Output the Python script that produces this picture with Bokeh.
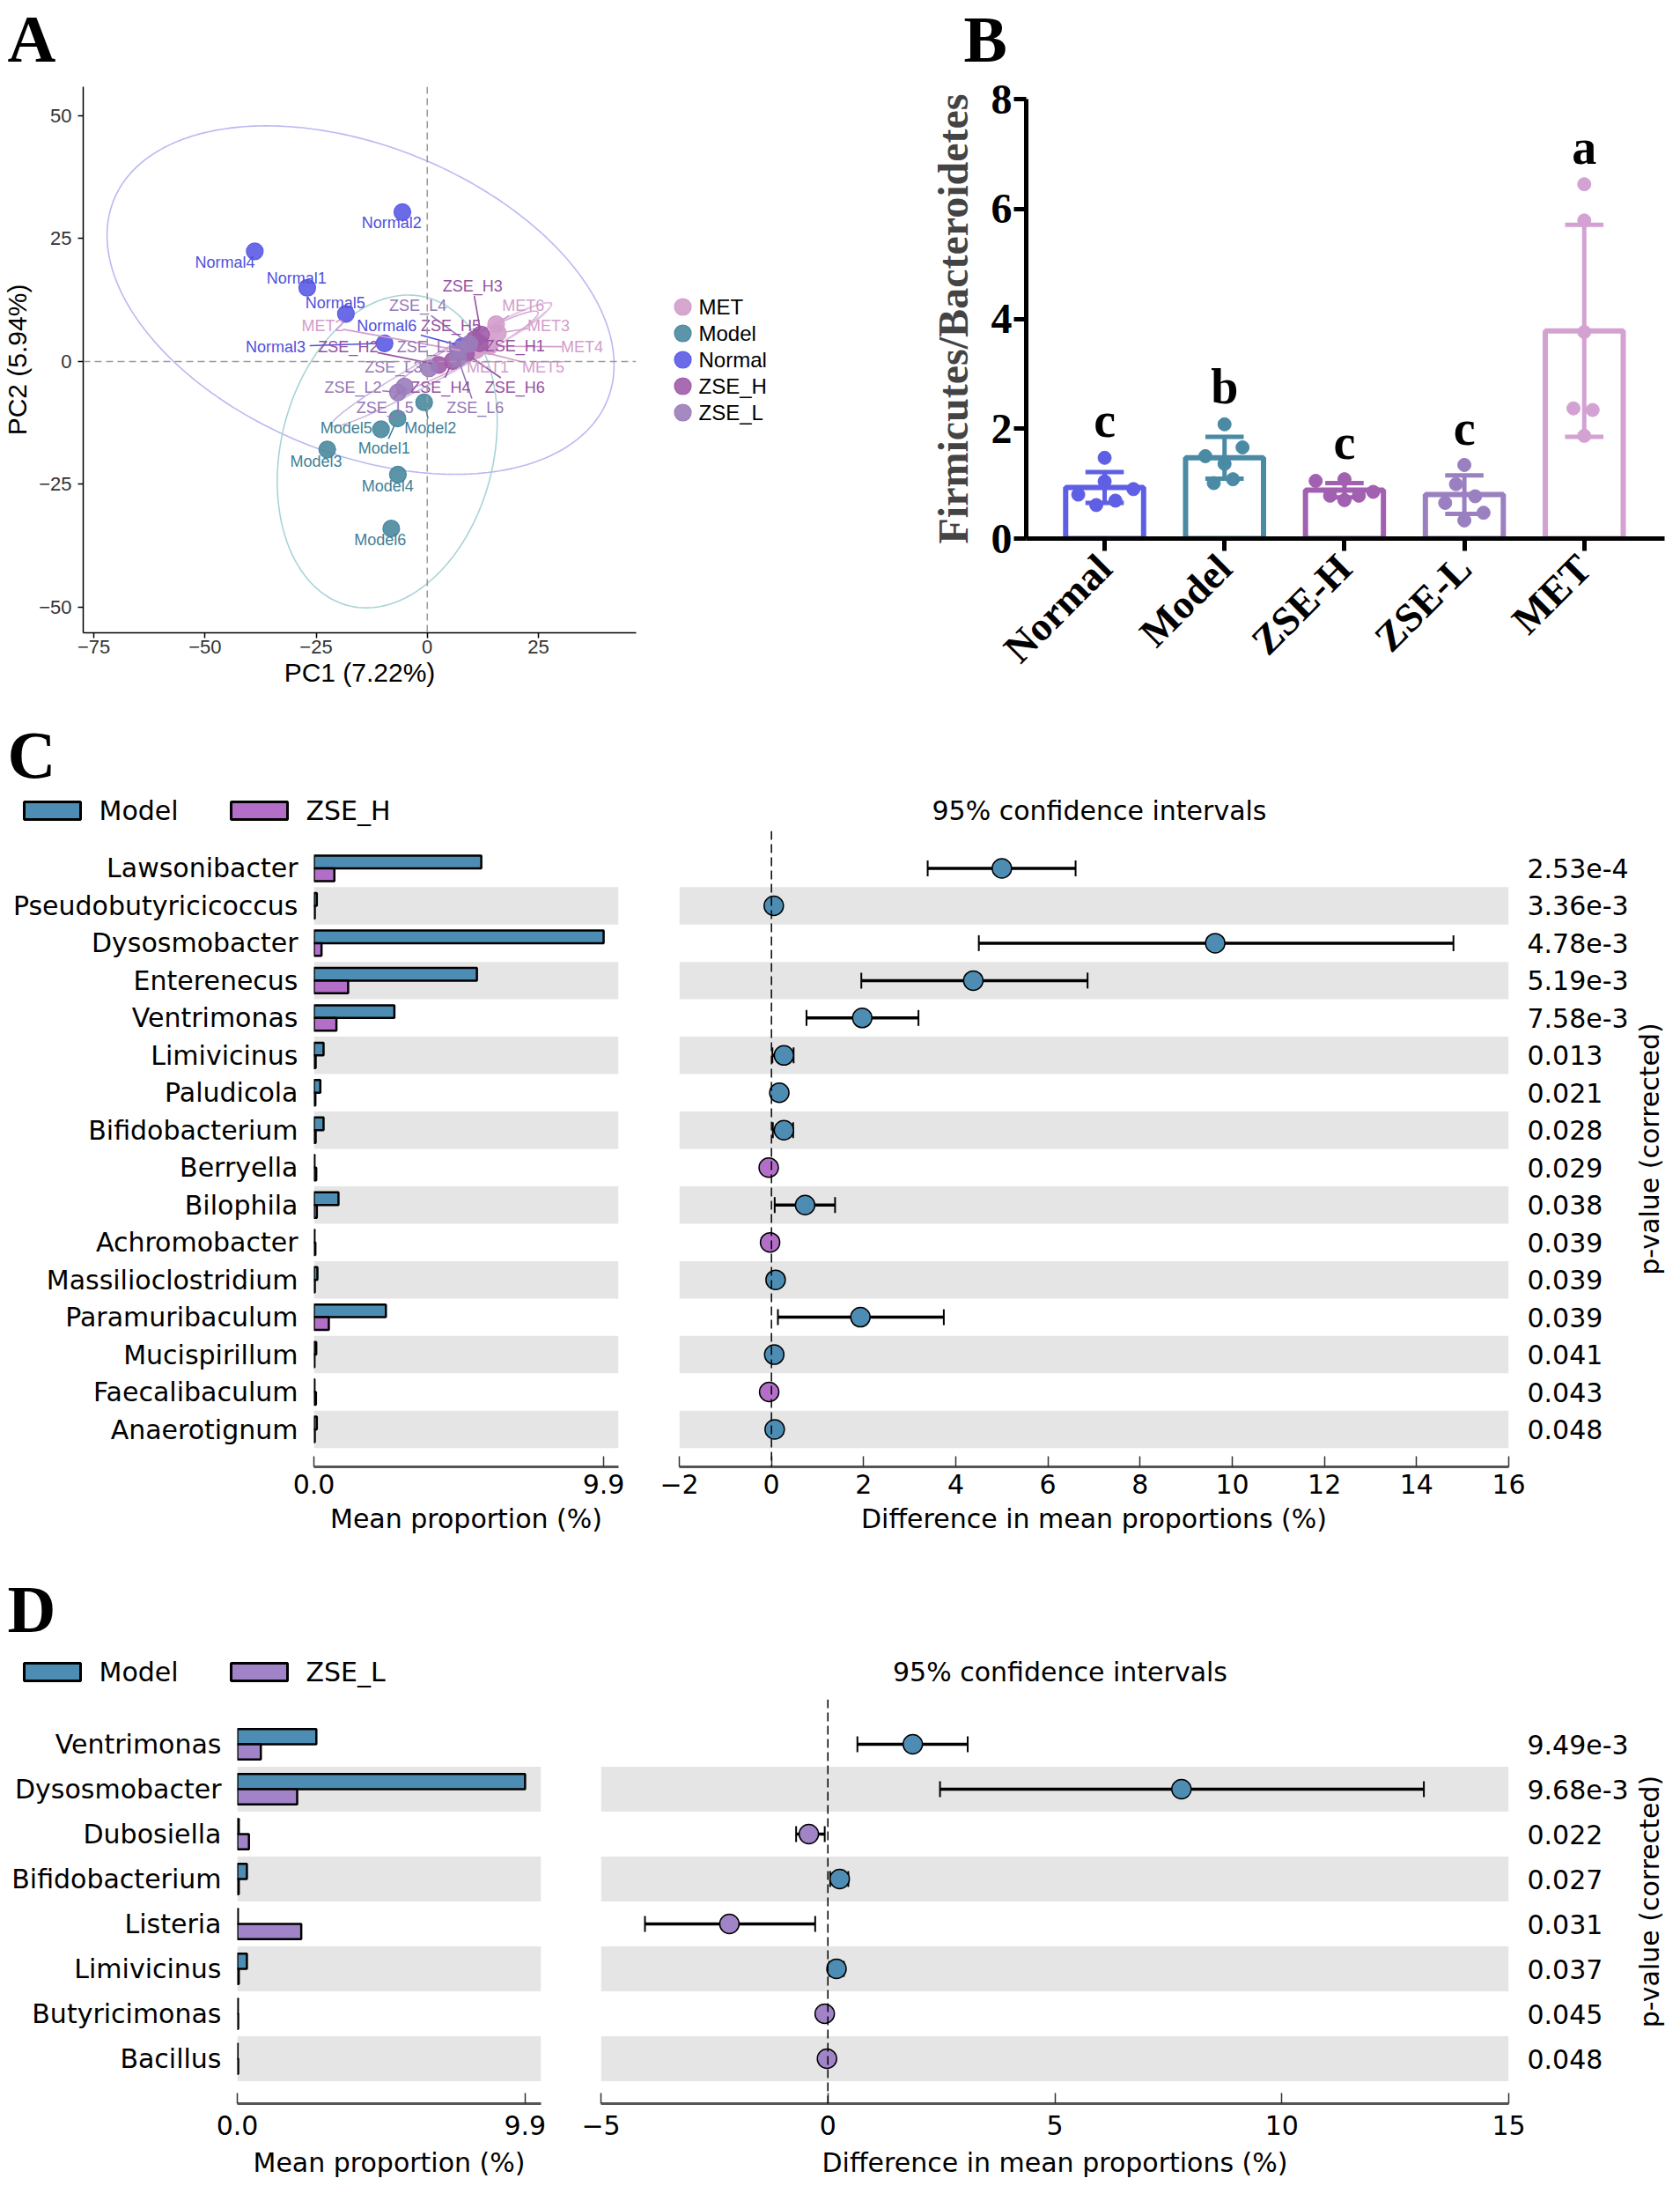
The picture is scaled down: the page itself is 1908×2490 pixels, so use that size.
import numpy as np
from math import pi, hypot
from bokeh.plotting import figure
from bokeh.layouts import column, row
from bokeh.models import Range1d, FixedTicker, Span
from bokeh.core.properties import value
from bokeh.embed import file_html
from bokeh.resources import INLINE

# ======================= Panel A : PCA =======================
pca_groups = ["MET", "Model", "Normal", "ZSE_H", "ZSE_L"]
pca_colors = ["#d39dcb", "#4a889f", "#5b5be6", "#a05ba8", "#9b7dbb"]
pca_text_colors = ["#d39dcb", "#3f7f97", "#4f4fdc", "#9650a0", "#9577b5"]

met_names = ["MET1", "MET2", "MET3", "MET4", "MET5", "MET6"]
met_pc1 = [7.2, 9.0, 15.9, 14.0, 11.0, 15.5]
met_pc2 = [1.4, 2.0, 5.8, 3.1, 2.3, 7.6]
met_lab_x = [13.6, -23.5, 27.3, 34.8, 26.1, 21.6]
met_lab_y = [-1.2, 7.3, 7.3, 3.0, -1.2, 11.3]

model_names = ["Model1", "Model2", "Model3", "Model4", "Model5", "Model6"]
model_pc1 = [-6.7, -0.7, -22.5, -6.6, -10.4, -8.1]
model_pc2 = [-11.6, -8.3, -17.9, -23.0, -13.8, -34.0]
model_lab_x = [-9.7, 0.7, -25.0, -8.9, -18.2, -10.6]
model_lab_y = [-17.7, -13.6, -20.3, -25.3, -13.6, -36.3]

normal_names = ["Normal1", "Normal2", "Normal3", "Normal4", "Normal5", "Normal6"]
normal_pc1 = [-27.0, -5.6, -9.6, -38.8, -18.3, 7.9]
normal_pc2 = [15.0, 30.4, 3.7, 22.4, 9.7, 3.1]
normal_lab_x = [-29.4, -8.0, -34.1, -45.5, -20.7, -9.1]
normal_lab_y = [17.0, 28.2, 3.0, 20.2, 11.9, 7.2]

zseh_names = ["ZSE_H1", "ZSE_H2", "ZSE_H3", "ZSE_H4", "ZSE_H5", "ZSE_H6"]
zseh_pc1 = [11.8, 2.6, 12.1, 5.7, 10.6, 8.7]
zseh_pc2 = [3.7, -0.7, 5.5, 0.1, 4.5, 1.6]
zseh_lab_x = [19.7, -17.8, 10.2, 3.0, 5.3, 19.7]
zseh_lab_y = [3.1, 3.0, 15.3, -5.3, 7.2, -5.3]

zsel_names = ["ZSE_L1", "ZSE_L2", "ZSE_L3", "ZSE_L4", "ZSE_L5", "ZSE_L6"]
zsel_pc1 = [7.2, -6.6, 0.4, 9.5, -5.1, 6.9]
zsel_pc2 = [2.5, -6.3, -1.4, 3.6, -5.1, 0.7]
zsel_lab_x = [-0.4, -16.7, -7.6, -2.1, -9.5, 10.8]
zsel_lab_y = [3.0, -5.3, -1.2, 11.3, -9.5, -9.5]

# confidence ellipses (centre, semi-axes, rotation in degrees)
ell_groups = ["Normal", "Model", "ZSE_L", "ZSE_H", "MET"]
ell_cx = [-15.0, -9.0, 3.2, 8.5, 16.8]
ell_cy = [12.5, -18.3, -0.6, 2.0, 6.1]
ell_a = [59.2, 32.6, 27.7, 18.3, 12.3]
ell_b = [31.7, 23.7, 2.5, 2.2, 2.0]
ell_angle = [-18.5, 71.5, 26.6, 26.0, 27.0]
ell_colors = ["#b9b9f2", "#a9d3d6", "#cdb9df", "#d4abd6", "#e6c7e3"]

pca_x_ticks = [-75, -50, -25, 0, 25]
pca_y_ticks = [-50, -25, 0, 25, 50]

# ======================= Panel B : F/B ratio =======================
b_groups = ["Normal", "Model", "ZSE-H", "ZSE-L", "MET"]
b_means = [0.93, 1.47, 0.88, 0.80, 3.78]
b_sd = [0.28, 0.38, 0.13, 0.35, 1.93]
b_letters = ["c", "b", "c", "c", "a"]
b_colors = ["#5f5fe6", "#4a8aa5", "#a260b0", "#9a80c0", "#d3a2d2"]
b_pts_normal = [1.47, 1.04, 0.90, 0.80, 0.69, 0.61]
b_off_normal = [0.0, 0.0, 0.24, -0.22, 0.09, -0.07]
b_pts_model = [2.08, 1.66, 1.50, 1.36, 1.08, 1.01]
b_off_model = [0.0, 0.15, -0.16, 0.0, 0.07, -0.09]
b_pts_zseh = [1.08, 1.05, 0.85, 0.78, 0.78, 0.70]
b_off_zseh = [0.0, -0.24, 0.24, 0.12, -0.12, 0.0]
b_pts_zsel = [1.34, 0.99, 0.77, 0.65, 0.47, 0.33]
b_off_zsel = [0.0, -0.07, 0.09, -0.16, 0.16, 0.0]
b_pts_met = [6.45, 5.79, 3.76, 2.37, 2.34, 1.87]
b_off_met = [0.0, 0.0, 0.0, -0.09, 0.07, 0.0]
b_y_ticks = [0, 2, 4, 6, 8]

# ======================= Panel C : Model vs ZSE_H =======================
c_species = ["Lawsonibacter", "Pseudobutyricicoccus", "Dysosmobacter", "Enterenecus",
             "Ventrimonas", "Limivicinus", "Paludicola", "Bifidobacterium", "Berryella",
             "Bilophila", "Achromobacter", "Massilioclostridium", "Paramuribaculum",
             "Mucispirillum", "Faecalibaculum", "Anaerotignum"]
c_model_mean = [5.72, 0.10, 9.90, 5.57, 2.75, 0.33, 0.22, 0.33, 0.02, 0.84, 0.02, 0.12, 2.46, 0.08, 0.02, 0.10]
c_zseh_mean = [0.70, 0.03, 0.26, 1.17, 0.77, 0.06, 0.05, 0.06, 0.08, 0.10, 0.05, 0.03, 0.51, 0.02, 0.07, 0.03]
c_diff = [5.00, 0.05, 9.63, 4.38, 1.97, 0.27, 0.17, 0.27, -0.06, 0.73, -0.03, 0.09, 1.93, 0.06, -0.05, 0.07]
c_ci_low = [3.39, 0.01, 4.50, 1.95, 0.76, 0.02, 0.06, 0.03, -0.10, 0.07, -0.06, 0.02, 0.14, 0.01, -0.09, 0.02]
c_ci_high = [6.60, 0.09, 14.80, 6.86, 3.19, 0.48, 0.26, 0.47, -0.01, 1.38, -0.01, 0.16, 3.74, 0.10, -0.01, 0.12]
c_pvalues = ["2.53e-4", "3.36e-3", "4.78e-3", "5.19e-3", "7.58e-3", "0.013", "0.021", "0.028",
             "0.029", "0.038", "0.039", "0.039", "0.039", "0.041", "0.043", "0.048"]
c_diff_ticks = [-2, 0, 2, 4, 6, 8, 10, 12, 14, 16]

# ======================= Panel D : Model vs ZSE_L =======================
d_species = ["Ventrimonas", "Dysosmobacter", "Dubosiella", "Bifidobacterium", "Listeria",
             "Limivicinus", "Butyricimonas", "Bacillus"]
d_model_mean = [2.72, 9.90, 0.05, 0.33, 0.02, 0.33, 0.02, 0.01]
d_zsel_mean = [0.81, 2.06, 0.40, 0.05, 2.20, 0.05, 0.03, 0.03]
d_diff = [1.87, 7.79, -0.42, 0.26, -2.17, 0.19, -0.07, -0.02]
d_ci_low = [0.65, 2.47, -0.70, 0.05, -4.03, 0.03, -0.10, -0.05]
d_ci_high = [3.08, 13.13, -0.07, 0.45, -0.28, 0.35, -0.03, 0.01]
d_pvalues = ["9.49e-3", "9.68e-3", "0.022", "0.027", "0.031", "0.037", "0.045", "0.048"]
d_diff_ticks = [-5, 0, 5, 10, 15]

mean_ticks = [0, 9.9]

SANS = "Liberation Sans"
SERIF = "Liberation Serif"
DJ = "DejaVu Sans"
PAGE_W = 1892


def fig(**kw):
    p = figure(output_backend="svg", toolbar_location=None, frame_align=False, **kw)
    p.grid.visible = False
    p.outline_line_color = None
    p.background_fill_color = "white"
    p.border_fill_color = "white"
    return p


def canvas(w, h):
    """Blank pixel-space figure (y grows downward) for headers / legends."""
    return fig(width=w, height=h, x_range=Range1d(0, w), y_range=Range1d(h, 0), min_border=0,
               x_axis_location=None, y_axis_location=None)


def panel_letter(p, x, y_mid, t, size=76):
    p.text(x=[x], y=[y_mid], text=[t], text_font=value(SERIF), text_font_style="bold",
           text_font_size=f"{size}px", text_baseline="middle", text_align="left",
           text_color="black")


# ------------------------------------------------------------------ A
HA = 92
hdrA = canvas(1000, HA)
panel_letter(hdrA, 8, 43, "A")

A_W, A_H = 732, 800 - HA
A_L, A_R, A_T, A_B = 94, 10, 98 - HA, 82
ax0, ax1 = -77.4, 47.0
ay0, ay1 = -55.2, 55.9
pA = fig(width=A_W, height=A_H, x_range=Range1d(ax0, ax1), y_range=Range1d(ay0, ay1),
         min_border_left=A_L, min_border_right=A_R, min_border_top=A_T, min_border_bottom=A_B)
pxx = (A_W - A_L - A_R) / (ax1 - ax0)
pxy = (A_H - A_T - A_B) / (ay1 - ay0)

pA.add_layout(Span(location=0, dimension="height", line_color="#9a9a9a", line_dash="8 5", line_width=1.5))
pA.add_layout(Span(location=0, dimension="width", line_color="#9a9a9a", line_dash="8 5", line_width=1.5))

t = np.linspace(0, 2 * np.pi, 240)
for cx, cy, a, b, ang, col in zip(ell_cx, ell_cy, ell_a, ell_b, ell_angle, ell_colors):
    th = np.deg2rad(ang)
    ex = cx + a * np.cos(t) * np.cos(th) - b * np.sin(t) * np.sin(th)
    ey = cy + a * np.cos(t) * np.sin(th) + b * np.sin(t) * np.cos(th)
    pA.line(ex, ey, line_color=col, line_width=1.6)

grp_data = {
    "MET": (met_names, met_pc1, met_pc2, met_lab_x, met_lab_y),
    "Model": (model_names, model_pc1, model_pc2, model_lab_x, model_lab_y),
    "Normal": (normal_names, normal_pc1, normal_pc2, normal_lab_x, normal_lab_y),
    "ZSE_H": (zseh_names, zseh_pc1, zseh_pc2, zseh_lab_x, zseh_lab_y),
    "ZSE_L": (zsel_names, zsel_pc1, zsel_pc2, zsel_lab_x, zsel_lab_y),
}
for g, col in zip(pca_groups, pca_colors):
    names, xs, ys, lx, ly = grp_data[g]
    pA.scatter(xs, ys, size=19, marker="circle", fill_color=col, fill_alpha=0.9,
               line_color=col, line_width=1.2)

LAB_PX = 18


def connector(lx, ly, px, py, text):
    w = len(text) * 0.58 * LAB_PX
    h = LAB_PX
    dx = (px - lx) * pxx
    dy = (py - ly) * pxy
    d = hypot(dx, dy)
    if d == 0:
        return None
    tx = (w / 2 + 2) / abs(dx) if dx != 0 else 1e9
    ty = (h / 2 + 2) / abs(dy) if dy != 0 else 1e9
    t0 = min(tx, ty)
    if t0 >= 1 or (1 - t0) * d < 14:
        return None
    t1 = max(t0, 1 - 8 / d)
    return (lx + (px - lx) * t0, ly + (py - ly) * t0, lx + (px - lx) * t1, ly + (py - ly) * t1)


for g, tcol in zip(pca_groups, pca_text_colors):
    names, xs, ys, lx, ly = grp_data[g]
    segs = [connector(a, b, c, d, n) for a, b, c, d, n in zip(lx, ly, xs, ys, names)]
    segs = [s for s in segs if s is not None]
    if segs:
        pA.segment(x0=[s[0] for s in segs], y0=[s[1] for s in segs], x1=[s[2] for s in segs],
                   y1=[s[3] for s in segs], line_color=tcol, line_width=1.6)
for g, tcol in zip(pca_groups, pca_text_colors):
    names, xs, ys, lx, ly = grp_data[g]
    pA.text(x=lx, y=ly, text=names, text_align="center", text_baseline="middle",
            text_font=value(SANS), text_font_size=f"{LAB_PX}px", text_color=tcol)

for ax in (pA.xaxis[0], pA.yaxis[0]):
    ax.axis_line_color = "black"
    ax.axis_line_width = 1.5
    ax.major_tick_line_color = "black"
    ax.major_tick_line_width = 1.5
    ax.major_tick_out = 6
    ax.major_tick_in = 0
    ax.minor_tick_line_color = None
    ax.major_label_text_font = SANS
    ax.major_label_text_font_size = "22px"
    ax.major_label_text_color = "#333333"
    ax.axis_label_text_font = SANS
    ax.axis_label_text_font_size = "30px"
    ax.axis_label_text_font_style = "normal"
    ax.axis_label_text_color = "black"
pA.xaxis.ticker = FixedTicker(ticks=pca_x_ticks)
pA.yaxis.ticker = FixedTicker(ticks=pca_y_ticks)
pA.xaxis.axis_label = "PC1 (7.22%)"
pA.yaxis.axis_label = "PC2 (5.94%)"
pA.xaxis.major_label_standoff = 2
pA.xaxis.axis_label_standoff = 2
pA.yaxis.major_label_standoff = 7
pA.yaxis.axis_label_standoff = 5

# legend of panel A (own small canvas right of the plot)
LA_W = 1000 - A_W
legA = canvas(LA_W, A_H)
leg_y = [348 - HA + 30 * i for i in range(len(pca_groups))]
legA.scatter([43] * len(pca_groups), leg_y, size=19, marker="circle", fill_color=pca_colors,
             fill_alpha=0.9, line_color=pca_colors, line_width=1.2)
legA.text(x=[61] * len(pca_groups), y=leg_y, text=pca_groups, text_font=value(SANS),
          text_font_size="24px", text_baseline="middle", text_align="left", text_color="black")

colA = column(hdrA, row(pA, legA))

# ------------------------------------------------------------------ B
HB = 86
hdrB = canvas(PAGE_W - 1000, HB)
panel_letter(hdrB, 94, 44, "B", size=74)

B_W, B_H = PAGE_W - 1000, 800 - HB
B_L, B_R, B_T, B_B = 165, 2, 112 - HB, 189
bx0, bx1 = -0.654, 4.67
pB = fig(width=B_W, height=B_H, x_range=Range1d(bx0, bx1), y_range=Range1d(0, 8),
         min_border_left=B_L, min_border_right=B_R, min_border_top=B_T, min_border_bottom=B_B)
bidx = list(range(len(b_groups)))
pB.vbar(x=bidx, top=b_means, bottom=0, width=0.65, fill_color="white",
        line_color=b_colors, line_width=6)
pts = [b_pts_normal, b_pts_model, b_pts_zseh, b_pts_zsel, b_pts_met]
offs = [b_off_normal, b_off_model, b_off_zseh, b_off_zsel, b_off_met]
for i, (pv, ov, col) in enumerate(zip(pts, offs, b_colors)):
    pB.scatter([i + o for o in ov], pv, size=15, marker="circle", fill_color=col, line_color=col)
lo = [m - s for m, s in zip(b_means, b_sd)]
hi = [m + s for m, s in zip(b_means, b_sd)]
pB.segment(x0=bidx, y0=lo, x1=bidx, y1=hi, line_color=b_colors, line_width=5)
pB.segment(x0=[i - 0.16 for i in bidx], y0=hi, x1=[i + 0.16 for i in bidx], y1=hi,
           line_color=b_colors, line_width=5)
pB.segment(x0=[i - 0.16 for i in bidx], y0=lo, x1=[i + 0.16 for i in bidx], y1=lo,
           line_color=b_colors, line_width=5)
# significance letters: centred a little above the highest point of each group
pB.text(x=bidx, y=[max(p) + 0.68 for p in pts], text=b_letters, text_align="center",
        text_baseline="middle", text_font=value(SERIF), text_font_style="bold",
        text_font_size="56px", text_color="black")
for ax in (pB.xaxis[0], pB.yaxis[0]):
    ax.axis_line_color = "black"
    ax.axis_line_width = 5
    ax.major_tick_line_color = "black"
    ax.major_tick_line_width = 5
    ax.major_tick_out = 14
    ax.major_tick_in = 0
    ax.minor_tick_line_color = None
    ax.major_label_text_font = SERIF
    ax.major_label_text_font_style = "bold"
    ax.major_label_text_color = "black"
pB.yaxis.ticker = FixedTicker(ticks=b_y_ticks)
pB.yaxis.major_label_text_font_size = "48px"
pB.yaxis.major_label_standoff = 2
pB.yaxis.axis_label = "Firmicutes/Bacteroidetes"
pB.yaxis.axis_label_text_font = SERIF
pB.yaxis.axis_label_text_font_style = "bold"
pB.yaxis.axis_label_text_font_size = "48px"
pB.yaxis.axis_label_standoff = 14
pB.xaxis.ticker = FixedTicker(ticks=bidx)
pB.xaxis.major_label_overrides = {i: g for i, g in enumerate(b_groups)}
pB.xaxis.major_label_orientation = pi / 4
pB.xaxis.major_label_text_font_size = "46px"
pB.xaxis.major_label_standoff = 12

colB = column(hdrB, pB)
row1 = row(colA, colB)


# ------------------------------------------------------------------ C / D
def style_bottom(ax, label, tick_sd, lab_sd):
    ax.axis_label = label
    ax.axis_line_color = "#555555"
    ax.axis_line_width = 3
    ax.major_tick_line_color = "#333333"
    ax.major_tick_line_width = 1.5
    ax.major_tick_in = 12
    ax.major_tick_out = 0
    ax.minor_tick_line_color = None
    ax.major_label_standoff = tick_sd
    ax.major_label_text_font = DJ
    ax.major_label_text_font_size = "30px"
    ax.major_label_text_color = "black"
    ax.axis_label_text_font = DJ
    ax.axis_label_text_font_size = "30px"
    ax.axis_label_text_font_style = "normal"
    ax.axis_label_text_color = "black"
    ax.axis_label_standoff = lab_sd


def style_rows(ax, rows, labels, standoff):
    ax.ticker = FixedTicker(ticks=rows)
    ax.major_label_overrides = {r: s for r, s in zip(rows, labels)}
    ax.axis_line_color = None
    ax.major_tick_line_color = None
    ax.minor_tick_line_color = None
    ax.major_label_standoff = standoff
    ax.major_label_text_font = DJ
    ax.major_label_text_font_size = "30px"
    ax.major_label_text_color = "black"


def stamp(letter, species, ma, mb, diff, clo, chi, pvals, name_b, col_b,
          top, plot_h, bottom, lw, l_left, l_right, rw, r_left, r_right,
          xl_end, xr0, xr1, xr_ticks, letter_mid, header_y, tick_sd, lab_sd):
    col_a = "#4d8db4"
    n = len(species)
    rows = list(range(n))
    row_px = (plot_h - bottom) / (n + 1)
    odd = [r for r in rows if r % 2 == 1]

    # ---- header strip: letter, legend, title
    hdr = canvas(PAGE_W, top)
    panel_letter(hdr, 8, letter_mid, letter)
    hdr.quad(left=[27, 262], right=[91, 326], top=[header_y - 10] * 2, bottom=[header_y + 10] * 2,
             fill_color=[col_a, col_b], line_color="black", line_width=3)
    hdr.text(x=[112, 347], y=[header_y] * 2, text=["Model", name_b], text_font=value(DJ),
             text_font_size="30px", text_baseline="middle", text_align="left", text_color="black")
    r_frame_left = lw + r_left
    r_frame_w = rw - r_left - r_right
    hdr.text(x=[r_frame_left + r_frame_w / 2], y=[header_y], text=["95% confidence intervals"],
             text_font=value(DJ), text_font_size="30px", text_baseline="middle",
             text_align="center", text_color="black")

    # ---- left: mean proportions
    pl = fig(width=lw, height=plot_h, x_range=Range1d(0, xl_end), y_range=Range1d(n, -1),
             min_border_left=l_left, min_border_right=l_right, min_border_top=0,
             min_border_bottom=bottom)
    pl.hbar(y=odd, left=0, right=xl_end, height=1, fill_color="#e5e5e5", line_color=None)
    pl.hbar(y=[r - 0.17 for r in rows], left=0, right=ma, height=0.34, fill_color=col_a,
            line_color="black", line_width=2.5)
    pl.hbar(y=[r + 0.17 for r in rows], left=0, right=mb, height=0.34, fill_color=col_b,
            line_color="black", line_width=2.5)
    style_rows(pl.yaxis[0], rows, species, 12)
    pl.xaxis.ticker = FixedTicker(ticks=mean_ticks)
    pl.xaxis.major_label_overrides = {0: "0.0", 9.9: "9.9"}
    style_bottom(pl.xaxis[0], "Mean proportion (%)", tick_sd, lab_sd)

    # ---- right: differences with CI
    pr = fig(width=rw, height=plot_h, x_range=Range1d(xr0, xr1), y_range=Range1d(n, -1),
             y_axis_location="right", min_border_left=r_left, min_border_right=r_right,
             min_border_top=0, min_border_bottom=bottom)
    pr.hbar(y=odd, left=xr0, right=xr1, height=1, fill_color="#e5e5e5", line_color=None)
    pr.add_layout(Span(location=0, dimension="height", line_color="black", line_dash="10 5",
                       line_width=1.5))
    cap = 9 / row_px
    pr.segment(x0=clo, y0=rows, x1=chi, y1=rows, line_color="black", line_width=3.5)
    pr.segment(x0=clo, y0=[r - cap for r in rows], x1=clo, y1=[r + cap for r in rows],
               line_color="black", line_width=2)
    pr.segment(x0=chi, y0=[r - cap for r in rows], x1=chi, y1=[r + cap for r in rows],
               line_color="black", line_width=2)
    dcol = [col_a if d > 0 else col_b for d in diff]
    pr.scatter(diff, rows, size=22, marker="circle", fill_color=dcol, line_color="black",
               line_width=1.5)
    style_rows(pr.yaxis[0], rows, pvals, 15)
    pr.xaxis.ticker = FixedTicker(ticks=xr_ticks)
    pr.xaxis.major_label_overrides = {v: str(v).replace("-", "\u2212") for v in xr_ticks}
    style_bottom(pr.xaxis[0], "Difference in mean proportions (%)", tick_sd, lab_sd)

    # ---- rotated axis title for the p-values
    lab_w = PAGE_W - lw - rw
    plab = fig(width=lab_w, height=plot_h, x_range=Range1d(0, lab_w), y_range=Range1d(n, -1),
               min_border_left=0, min_border_right=0, min_border_top=0, min_border_bottom=bottom,
               x_axis_location=None, y_axis_location=None)
    plab.text(x=[lab_w / 2 + 1], y=[(n - 1) / 2], text=["p-value (corrected)"], angle=pi / 2,
              text_font=value(DJ), text_font_size="30px", text_align="center",
              text_baseline="middle", text_color="black")
    return column(hdr, row(pl, pr, plab))


rowC = stamp("C", c_species, c_model_mean, c_zseh_mean, c_diff, c_ci_low, c_ci_high,
             c_pvalues, "ZSE_H", "#b36fc8",
             top=143, plot_h=822, bottom=100,
             lw=736, l_left=356, l_right=34, rw=1116, r_left=35, r_right=127,
             xl_end=10.41, xr0=-2, xr1=16, xr_ticks=c_diff_ticks,
             letter_mid=56, header_y=120, tick_sd=8, lab_sd=8)
rowD = stamp("D", d_species, d_model_mean, d_zsel_mean, d_diff, d_ci_low, d_ci_high,
             d_pvalues, "ZSE_L", "#a184c8",
             top=164, plot_h=553, bottom=94,
             lw=648, l_left=269, l_right=34, rw=1204, r_left=34, r_right=127,
             xl_end=10.45, xr0=-5, xr1=15, xr_ticks=d_diff_ticks,
             letter_mid=61, header_y=133, tick_sd=13, lab_sd=11)

layout = column(row1, rowC, rowD)
open("out.html", "w").write(file_html(layout, INLINE))
